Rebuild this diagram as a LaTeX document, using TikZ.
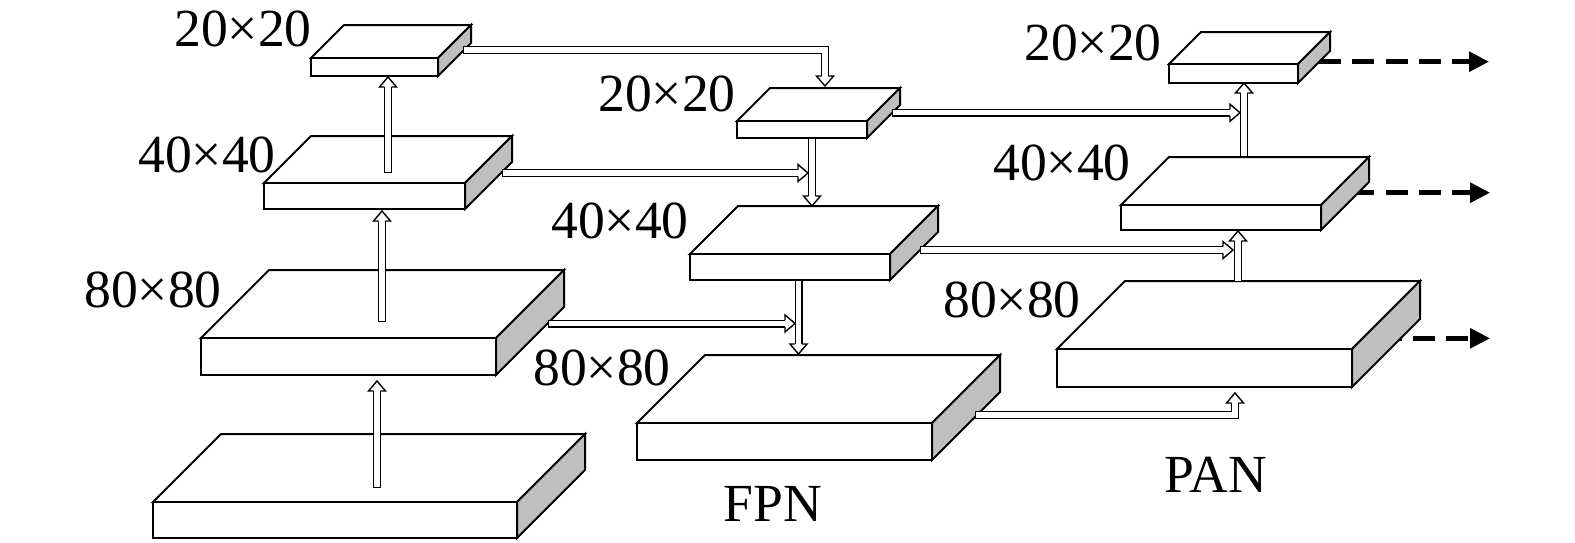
\documentclass[tikz,border=0pt]{standalone}
\usepackage{fontspec}
\setmainfont{Liberation Serif}
\usetikzlibrary{arrows.meta}
\definecolor{sidegray}{gray}{0.75}

% one feature map: front top-left corner, width, height, depth
\newcommand{\slab}[5]{%
 \filldraw[face] (#1,#2) -- ++(#5,-#5) -- ++(#3,0) -- ++(-#5,#5) -- cycle;
 \filldraw[face] (#1,#2) rectangle ++(#3,#4);
 \filldraw[face,fill=sidegray] (#1+#3,#2) -- ++(#5,-#5) -- ++(0,#4) -- ++(-#5,#5) -- cycle;}
% hollow arrow: path, tip, direction
\newcommand{\hollow}[3]{%
 \draw[shaft] #1;
 \draw[shaftin] #1;
 \pic[rotate=#3] at (#2) {hhead};}

\tikzset{
 face/.style={draw=black,fill=white,line width=0.04cm,line join=miter},
 shaft/.style={line width=0.16cm,shorten >=0.18cm,line join=miter},
 shaftin/.style={white,line width=0.104cm,shorten >=0.18cm,shorten <=0.028cm,line join=miter},
 hhead/.pic={
  \fill[white] (-10,-8.5) -- (0,0) -- (-10,8.5) -- cycle;
  \draw[line width=0.028cm] (-10,-3.3) -- (-10,-8.5) -- (0,0) -- (-10,8.5) -- (-10,3.3);},
 dashline/.style={line width=0.09cm,dash pattern=on 0.44cm off 0.23cm,-{Triangle[length=0.4cm,width=0.39cm]}},
 lab/.style={font=\fontsize{30.5}{36}\selectfont,anchor=base,inner sep=0pt}
}

\begin{document}
\begin{tikzpicture}[x=0.02cm,y=-0.02cm]
 \useasboundingbox (0,0) rectangle (1575,542);
 % outputs
 \coordinate (o1s) at (1318.5,61.7);  \coordinate (o1t) at (1489,61.7);
 \coordinate (o2s) at (1318.5,192.7); \coordinate (o2t) at (1490,192.7);
 \coordinate (o3s) at (1346,338.3);   \coordinate (o3t) at (1490,338.3);
 \draw[dashline] (o1s) -- (o1t);
 \draw[dashline] (o2s) -- (o2t);
 \draw[dashline] (o3s) -- (o3t);
 % backbone, FPN, PAN
 \foreach \px/\py/\pw/\ph/\pd in {153/502/364/36/68, 201/338/295/37/68, 264/183/201/26/47, 311/58/127/18/33,
   737/121/130/17/33, 690/254/200/26/48, 637/423/295/37/68,
   1169/64/129/19/32, 1121/205/200/25/48, 1057/349/295/38/68}
  {\slab{\px}{\py}{\pw}{\ph}{\pd}}
 % arrow ends
 \coordinate (a1s) at (377,488);   \coordinate (a1t) at (377,381);
 \coordinate (a2s) at (382,322);   \coordinate (a2t) at (382,211);
 \coordinate (a3s) at (388,173);   \coordinate (a3t) at (388,77);
 \coordinate (b1s) at (463,50);    \coordinate (b1t) at (825,86);
 \coordinate (b2s) at (502,173);   \coordinate (b2t) at (808,173);
 \coordinate (b3s) at (548,323.5); \coordinate (b3t) at (795,323.5);
 \coordinate (c1s) at (812,138);   \coordinate (c1t) at (812,206);
 \coordinate (c2s) at (798.5,280); \coordinate (c2t) at (798.5,354);
 \coordinate (d1s) at (892,112.7); \coordinate (d1t) at (1240,112.7);
 \coordinate (d2s) at (920,250);   \coordinate (d2t) at (1233,250);
 \coordinate (d3s) at (975,415);   \coordinate (d3t) at (1235,393);
 \coordinate (e1s) at (1238,282);  \coordinate (e1t) at (1238,231);
 \coordinate (e2s) at (1244,157);  \coordinate (e2t) at (1244,83);
 \hollow{(a1s) -- (a1t)}{a1t}{90}
 \hollow{(a2s) -- (a2t)}{a2t}{90}
 \hollow{(a3s) -- (a3t)}{a3t}{90}
 \hollow{(b1s) -| (b1t)}{b1t}{-90}
 \hollow{(b2s) -- (b2t)}{b2t}{0}
 \hollow{(b3s) -- (b3t)}{b3t}{0}
 \hollow{(c1s) -- (c1t)}{c1t}{-90}
 \hollow{(c2s) -- (c2t)}{c2t}{-90}
 \hollow{(d1s) -- (d1t)}{d1t}{0}
 \hollow{(d2s) -- (d2t)}{d2t}{0}
 \hollow{(d3s) -| (d3t)}{d3t}{90}
 \hollow{(e1s) -- (e1t)}{e1t}{90}
 \hollow{(e2s) -- (e2t)}{e2t}{90}
 % sizes
 \node[lab] (lbb4) at (243,46) {20×20};
 \node[lab] (lbb3) at (207,172) {40×40};
 \node[lab] (lbb2) at (153,307) {80×80};
 \node[lab] (lfp1) at (667,111) {20×20};
 \node[lab] (lfp2) at (620,238) {40×40};
 \node[lab] (lfp3) at (602,385) {80×80};
 \node[lab] (lpa1) at (1093,60) {20×20};
 \node[lab] (lpa2) at (1062,180) {40×40};
 \node[lab] (lpa3) at (1012,317) {80×80};
 \node[lab] (fpn) at (773,521) {FPN};
 \node[lab] (pan) at (1216,492) {PAN};
\end{tikzpicture}
\end{document}
